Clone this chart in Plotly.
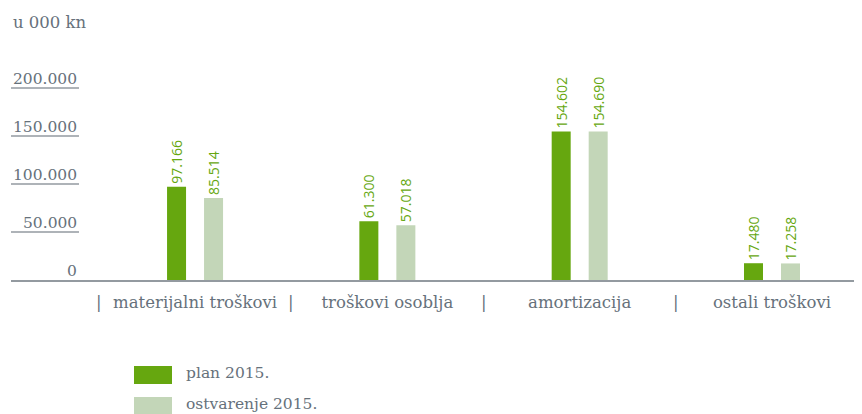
import plotly.graph_objects as go

categories = ["materijalni troškovi", "troškovi osoblja", "amortizacija", "ostali troškovi"]
plan_2015 = [97166, 61300, 154602, 17480]
ostvarenje_2015 = [85514, 57018, 154690, 17258]
series_names = ["plan 2015.", "ostvarenje 2015."]
series_colors = ["#66a70f", "#c3d6b8"]
y_ticks = [0, 50000, 100000, 150000, 200000]
unit_label = "u 000 kn"

# the page body has an 8px margin; lay the figure out in window pixels minus that offset
OFF = 8
W, H = 862 - OFF, 414 - OFF
PLOT_L, PLOT_R, PLOT_T, PLOT_B = 11, 862, 60, 280  # window pixels
ML, MR, MT, MB = PLOT_L - OFF, 862 - PLOT_R, PLOT_T - OFF, 414 - PLOT_B
PW, PH = PLOT_R - PLOT_L, PLOT_B - PLOT_T

SERIF = "DejaVu Serif"
GRAY = "#66717b"
LINE = "#939aa0"


def fmt(v):
    return f"{v:,}".replace(",", ".")


def px_x(x):
    return (x - PLOT_L) / PW


def px_y(y):
    return (PLOT_B - y) / PH


fig = go.Figure()
bar_w = 0.0988
offsets = [-0.1456, 0.0468]
for name, vals, col, off in zip(series_names, [plan_2015, ostvarenje_2015], series_colors, offsets):
    fig.add_trace(go.Bar(
        x=categories, y=vals, name=name, marker=dict(color=col, line=dict(width=0)),
        width=bar_w, offset=off,
        text=[fmt(v) for v in vals], textposition="outside", textangle=-90,
        constraintext="none", cliponaxis=False,
        textfont=dict(family="Open Sans", size=14, color="#66a70f"),
        showlegend=False,
    ))

shapes = []
annotations = []
lab_right = px_x(79)
for t in y_ticks:
    annotations.append(dict(
        x=lab_right, xref="paper", y=t, yref="y", text=fmt(t),
        xanchor="right", yanchor="bottom", showarrow=False, yshift=-2,
        font=dict(family=SERIF, size=15.5, color=GRAY)))
    if t > 0:
        shapes.append(dict(type="line", xref="paper", yref="y", x0=0, x1=lab_right,
                           y0=t, y1=t, line=dict(color=LINE, width=1.5)))

# category separators
for i in range(len(categories)):
    annotations.append(dict(
        x=i - 0.5, xref="x", y=px_y(302), yref="paper", text="|", xanchor="center",
        yanchor="middle", showarrow=False,
        font=dict(family=SERIF, size=16.5, color=GRAY)))

# unit label
annotations.append(dict(x=0, xref="paper", y=px_y(23), yref="paper", text=unit_label,
                        xanchor="left", yanchor="middle", showarrow=False,
                        font=dict(family=SERIF, size=16.5, color=GRAY)))

# legend
leg_y = [375, 406]
for name, col, yc in zip(series_names, series_colors, leg_y):
    shapes.append(dict(type="rect", xref="paper", yref="paper",
                       x0=px_x(134), x1=px_x(172),
                       y0=px_y(yc - 9), y1=px_y(yc + 9),
                       fillcolor=col, line=dict(width=0)))
    annotations.append(dict(x=px_x(184), xref="paper", y=px_y(yc - 2), yref="paper",
                            text=name, xanchor="left", yanchor="middle", showarrow=False,
                            font=dict(family=SERIF, size=15.5, color=GRAY)))

fig.update_layout(
    width=W, height=H, margin=dict(l=ML, r=MR, t=MT, b=MB, pad=0),
    paper_bgcolor="white", plot_bgcolor="white",
    barmode="group",
    shapes=shapes, annotations=annotations,
    xaxis=dict(type="category", range=[-0.957, 3.468], showgrid=False, zeroline=False,
               showline=True, linecolor=LINE, linewidth=2, ticks="",
               ticklabelstandoff=6,
               tickfont=dict(family=SERIF, size=16.5, color=GRAY)),
    yaxis=dict(range=[0, PH / (192 / 200000)], showgrid=False, zeroline=False,
               showticklabels=False, showline=False),
)

fig.write_html("out.html")
